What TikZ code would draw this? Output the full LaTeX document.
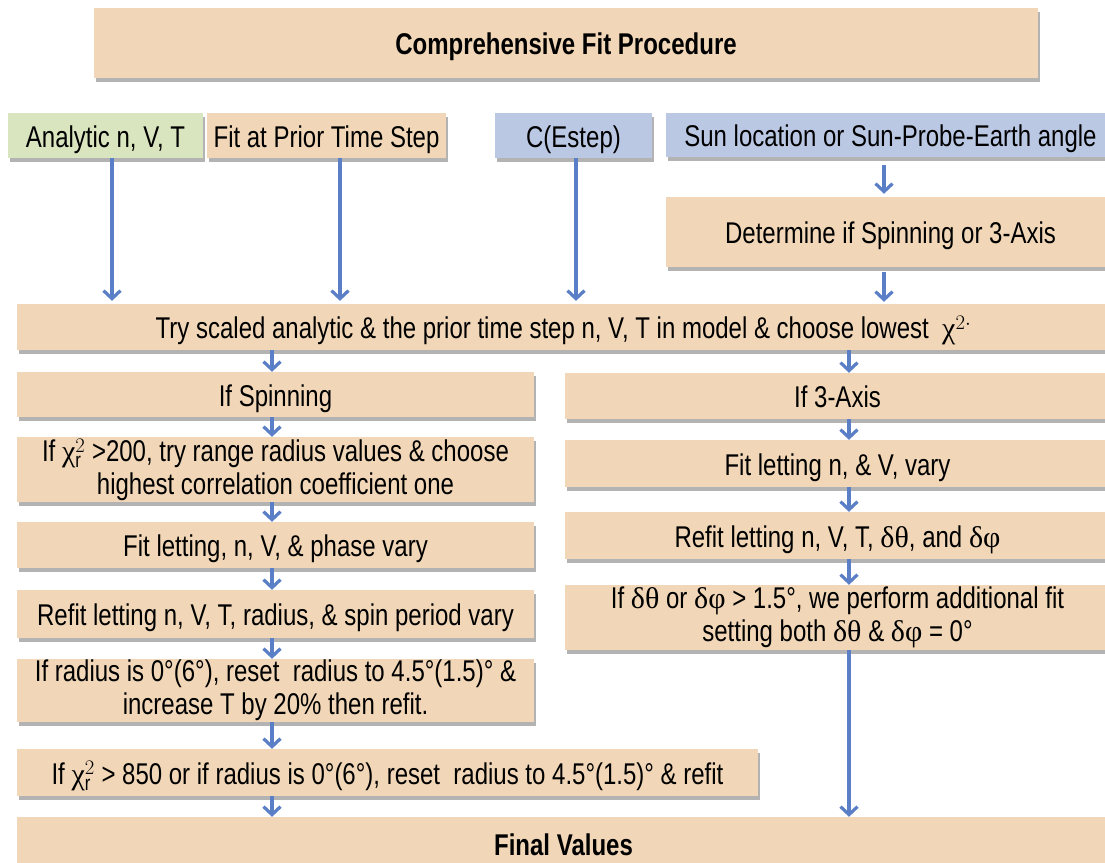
\documentclass[tikz,border=0pt]{standalone}
\usepackage{fontspec}
\setmainfont{Liberation Sans}[FakeStretch=0.8]
\newfontfamily\greek{Liberation Serif}
\usetikzlibrary{arrows.meta,shadows}
\definecolor{peach}{HTML}{F1D7B7}
\definecolor{sage}{HTML}{D9E5BF}
\definecolor{lavender}{HTML}{BAC8E4}
\definecolor{flowblue}{HTML}{5B7FC6}
\newcommand{\chir}{\mbox{\greek χ}$_{\mathrm{r}}^{2}$}

\begin{document}
\begin{tikzpicture}[x=1pt, y=-1pt,
  pairbox/.style={fill=peach, draw=none, inner sep=0pt, align=center,
    font=\fontsize{30}{33}\selectfont,
    drop shadow={shadow xshift=1.5pt, shadow yshift=-3.5pt, fill=black!50, opacity=0.6}},
  stepbox/.style={pairbox, text height=24pt, text depth=1pt},
  flow/.style={draw=flowblue, line width=3.2pt, -{Straight Barb[length=8pt, width=17pt]}}]
\useasboundingbox (0,0) rectangle (1105,862);
\node[stepbox, minimum width=944pt, minimum height=70pt, font=\fontsize{30}{33}\selectfont\bfseries] (title) at (566,43) {Comprehensive Fit Procedure};
\node[stepbox, fill=sage, minimum width=195pt, minimum height=45pt] (ana) at (105.5,135.5) {Analytic n, V, T};
\node[stepbox, minimum width=239pt, minimum height=45pt] (prior) at (326.5,135.5) {Fit at Prior Time Step};
\node[stepbox, fill=lavender, minimum width=157pt, minimum height=45pt] (estep) at (573.5,135.5) {C(Estep)};
\node[stepbox, fill=lavender, minimum width=449pt, minimum height=44pt] (sun) at (890.5,135) {Sun location or Sun-Probe-Earth angle};
\node[stepbox, minimum width=449pt, minimum height=70pt] (spinq) at (890.5,232) {Determine if Spinning or 3-Axis};
\node[stepbox, minimum width=1093pt, minimum height=46pt] (try) at (563.5,327) {Try scaled analytic \& the prior time step n, V, T in model \& choose lowest \ \mbox{\greek χ}$^{2\cdot}$};
\node[stepbox, minimum width=517pt, minimum height=45pt] (spin) at (275.5,394.5) {If Spinning};
\node[pairbox, minimum width=517pt, minimum height=65pt] (chi) at (275.5,469.5) {If \chir{} >200, try range radius values \& choose\\highest correlation coefficient one};
\node[stepbox, minimum width=517pt, minimum height=46pt] (phase) at (275.5,545) {Fit letting, n, V, \& phase vary};
\node[stepbox, minimum width=517pt, minimum height=48pt] (refit) at (275.5,614) {Refit letting n, V, T, radius, \& spin period vary};
\node[pairbox, minimum width=517pt, minimum height=63pt] (radius) at (275.5,690.5) {If radius is 0°(6°), reset \ radius to 4.5°(1.5)° \&\\increase T by 20\% then refit.};
\node[stepbox, minimum width=741pt, minimum height=47pt] (chibig) at (387.5,772.5) {If \chir{} > 850 or if radius is 0°(6°), reset \ radius to 4.5°(1.5)° \& refit};
\node[stepbox, minimum width=545pt, minimum height=46pt] (axis) at (837.5,396) {If 3-Axis};
\node[stepbox, minimum width=545pt, minimum height=47pt] (fitnv) at (837.5,463.5) {Fit letting n, \& V, vary};
\node[stepbox, minimum width=545pt, minimum height=47pt] (refitd) at (837.5,535.5) {Refit letting n, V, T, {\greek δθ}, and {\greek δφ}};
\node[pairbox, minimum width=545pt, minimum height=65pt] (delta) at (837.5,617.5) {If {\greek δθ} or {\greek δφ} > 1.5°, we perform additional fit\\setting both {\greek δθ} \& {\greek δφ} = 0°};
\node[stepbox, minimum width=1093pt, minimum height=53pt, font=\fontsize{30}{33}\selectfont\bfseries] (final) at (563.5,843.5) {Final Values};
\coordinate (lcol) at (272,0);
\coordinate (rcol) at (849,0);
\draw[flow] ([xshift=6.5pt]ana.south) -- ([xshift=6.5pt,yshift=3pt]ana.south |- try.north);
\draw[flow] ([xshift=13.5pt]prior.south) -- ([xshift=13.5pt,yshift=3pt]prior.south |- try.north);
\draw[flow] ([xshift=2.5pt]estep.south) -- ([xshift=2.5pt,yshift=3pt]estep.south |- try.north);
\draw[flow] ([xshift=-6.5pt,yshift=-8pt]sun.south) -- ([xshift=-6.5pt,yshift=3pt]spinq.north);
\draw[flow] ([xshift=-6.5pt,yshift=-5pt]spinq.south) -- ([xshift=-6.5pt,yshift=2pt]spinq.south |- try.north);
\draw[flow] (try.south -| lcol) -- (spin.north -| lcol);
\draw[flow] (spin.south -| lcol) -- (chi.north -| lcol);
\draw[flow] (chi.south -| lcol) -- (phase.north -| lcol);
\draw[flow] (phase.south -| lcol) -- (refit.north -| lcol);
\draw[flow] (refit.south -| lcol) -- (radius.north -| lcol);
\draw[flow] (radius.south -| lcol) -- (chibig.north -| lcol);
\draw[flow] (chibig.south -| lcol) -- (final.north -| lcol);
\draw[flow] (try.south -| rcol) -- (axis.north -| rcol);
\draw[flow] (axis.south -| rcol) -- (fitnv.north -| rcol);
\draw[flow] (fitnv.south -| rcol) -- (refitd.north -| rcol);
\draw[flow] (refitd.south -| rcol) -- (delta.north -| rcol);
\draw[flow] (delta.south -| rcol) -- (final.north -| rcol);
\end{tikzpicture}
\end{document}
